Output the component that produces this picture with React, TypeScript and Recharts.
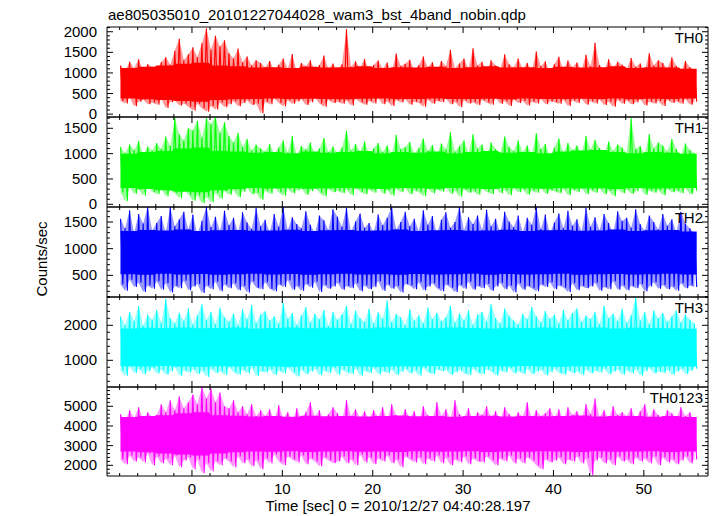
import React from "react";
import { ComposedChart, Line, Area, XAxis, YAxis } from "recharts";

// light-curve samples, alternating upper / lower excursions (counts/sec)
const TH0 = [
  1180, 320, 1040, 260, 1270, 410, 1120, 190, 1330, 300, 1060, 350, 1210, 240, 1150, 280,
  1090, 230, 1260, 370, 1380, 150, 1200, 290, 1540, 330, 1830, 210, 1310, 260, 1450, 180,
  1620, 90, 1380, 250, 1720, 140, 2080, 60, 1560, 200, 1900, 110, 1640, 280, 1790, 170,
  1480, 240, 1350, 310, 1590, 190, 1260, 270, 1400, 330, 1180, 220, 1310, 260, 1240, 20,
  1130, 300, 1290, 240, 1070, 380, 1200, 270, 1350, 190, 1110, 330, 1460, 250, 1020, 310,
  1240, 360, 1160, 220, 1310, 290, 1050, 400, 1190, 260, 1420, 180, 1100, 340, 1230, 270,
  1080, 300, 1210, 250, 2060, 330, 1150, 210, 1280, 370, 1120, 290, 1340, 230, 1060, 320,
  1190, 260, 1300, 390, 1110, 240, 1250, 310, 1040, 200, 1470, 340, 1170, 280, 1220, 360,
  1320, 230, 1080, 300, 1190, 270, 1400, 180, 1130, 350, 1260, 250, 1050, 320, 1290, 290,
  1160, 380, 1560, 240, 1120, 300, 1230, 170, 1350, 330, 1090, 260, 1600, 290, 1180, 220,
  1270, 340, 1040, 280, 1310, 230, 1180, 390, 1090, 250, 1450, 310, 1210, 200, 1130, 350,
  1350, 270, 1100, 320, 1240, 210, 1060, 300, 1520, 260, 1170, 370, 1280, 240, 1020, 310,
  1210, 290, 1390, 250, 1080, 340, 1300, 200, 1140, 330, 1250, 270, 1070, 380, 1440, 230,
  1160, 310, 1730, 260, 1190, 350, 1050, 220, 1330, 300, 1120, 180, 1270, 340, 1200, 250,
  1090, 330, 1360, 240, 1150, 290, 1230, 370, 1060, 210, 1480, 300, 1180, 260, 1310, 320,
  1240, 200, 1110, 340, 1380, 270, 1170, 310, 1020, 250, 1290, 360, 1140, 230, 1080, 300,
];

const TH1 = [
  1130, 240, 1010, 60, 1180, 330, 1070, 210, 1250, 290, 980, 170, 1140, 360, 1060, 250,
  1210, 200, 1090, 310, 1340, 160, 1150, 270, 1710, 220, 1380, 120, 1260, 300, 1500, 190,
  1460, 70, 1650, 180, 1320, 20, 1700, 150, 1580, 40, 1730, 230, 1410, 110, 1620, 260,
  1350, 190, 1220, 280, 1410, 140, 1130, 250, 1290, 320, 1060, 200, 1180, 230, 1100, 90,
  1040, 270, 1190, 210, 990, 340, 1120, 240, 1260, 170, 1020, 300, 1350, 220, 970, 280,
  1150, 320, 1080, 190, 1220, 260, 1000, 350, 1100, 230, 1310, 160, 1030, 300, 1140, 240,
  1010, 270, 1120, 220, 1450, 290, 1060, 180, 1190, 330, 1040, 250, 1240, 200, 990, 290,
  1100, 230, 1210, 340, 1030, 210, 1160, 280, 980, 170, 1370, 300, 1090, 240, 1130, 320,
  1230, 200, 1010, 270, 1110, 240, 1300, 160, 1050, 310, 1170, 220, 990, 290, 1200, 250,
  1080, 330, 1420, 210, 1040, 270, 1150, 150, 1260, 290, 1010, 230, 1380, 260, 1100, 190,
  1180, 300, 970, 250, 1220, 200, 1090, 340, 1020, 220, 1340, 280, 1130, 180, 1050, 310,
  1260, 240, 1030, 290, 1160, 190, 990, 270, 1400, 230, 1090, 320, 1190, 210, 960, 280,
  1120, 260, 1300, 220, 1010, 300, 1210, 180, 1060, 290, 1160, 240, 1000, 330, 1350, 200,
  1080, 280, 1270, 230, 1110, 310, 980, 200, 1240, 270, 1050, 160, 1180, 300, 1120, 220,
  1010, 290, 1700, 210, 1090, 260, 1150, 330, 990, 190, 1380, 270, 1100, 230, 1220, 280,
  1160, 180, 1040, 300, 1290, 240, 1090, 270, 970, 220, 1200, 320, 1070, 200, 1010, 270,
];

const TH2 = [
  1560, 330, 1380, 210, 1720, 420, 1290, 280, 1650, 360, 1470, 190, 1780, 310, 1340, 250,
  1480, 390, 1610, 230, 1300, 350, 1780, 180, 1420, 300, 1550, 260, 1690, 400, 1360, 220,
  1640, 290, 1270, 340, 1520, 170, 1780, 310, 1400, 240, 1600, 380, 1330, 200, 1710, 330,
  1440, 260, 1580, 350, 1310, 220, 1680, 300, 1490, 180, 1370, 390, 1760, 270, 1420, 240,
  1540, 370, 1300, 250, 1650, 200, 1410, 330, 1780, 280, 1350, 410, 1590, 230, 1460, 300,
  1380, 210, 1700, 340, 1450, 270, 1290, 380, 1620, 190, 1530, 320, 1350, 250, 1740, 290,
  1600, 360, 1410, 230, 1770, 300, 1320, 260, 1510, 350, 1660, 200, 1390, 310, 1480, 240,
  1300, 280, 1640, 390, 1440, 210, 1580, 330, 1780, 250, 1360, 300, 1500, 180, 1690, 340,
  1420, 310, 1560, 240, 1330, 370, 1720, 220, 1450, 290, 1610, 350, 1280, 260, 1540, 200,
  1680, 330, 1390, 270, 1500, 190, 1780, 320, 1340, 250, 1590, 380, 1460, 230, 1620, 300,
  1350, 260, 1730, 340, 1420, 210, 1560, 290, 1300, 360, 1690, 240, 1510, 310, 1400, 180,
  1620, 350, 1310, 230, 1580, 300, 1450, 260, 1780, 200, 1370, 330, 1640, 280, 1290, 370,
  1490, 240, 1660, 310, 1380, 270, 1710, 190, 1430, 350, 1550, 220, 1320, 300, 1760, 260,
  1410, 290, 1590, 360, 1340, 210, 1650, 280, 1480, 240, 1300, 390, 1700, 230, 1520, 310,
  1580, 220, 1390, 300, 1740, 260, 1460, 340, 1330, 200, 1620, 290, 1500, 370, 1360, 250,
  1650, 320, 1430, 240, 1550, 290, 1310, 210, 1690, 350, 1470, 260, 1380, 310, 1290, 280,
];

const TH3 = [
  2250, 700, 2010, 560, 2380, 820, 2120, 640, 2550, 750, 1990, 600, 2300, 690, 2160, 780,
  2440, 620, 2070, 730, 2750, 590, 2200, 680, 2060, 800, 2360, 560, 2130, 710, 2480, 650,
  2020, 740, 2290, 610, 2600, 700, 2150, 520, 2390, 760, 2040, 640, 2500, 690, 2230, 580,
  2110, 800, 2340, 660, 2000, 590, 2460, 720, 2180, 630, 2580, 770, 2070, 550, 2310, 690,
  2400, 650, 2140, 740, 2260, 580, 2050, 700, 2640, 620, 2190, 790, 2350, 660, 2010, 540,
  2280, 720, 2520, 600, 2080, 680, 2330, 750, 2170, 570, 2440, 700, 1980, 640, 2390, 780,
  2160, 590, 2310, 730, 2560, 650, 2040, 610, 2420, 760, 2200, 560, 2100, 700, 2470, 630,
  2050, 770, 2370, 600, 2190, 690, 2710, 640, 2090, 730, 2320, 580, 2230, 670, 2010, 750,
  2450, 620, 2140, 710, 2290, 560, 2060, 780, 2510, 650, 2180, 600, 2360, 740, 2120, 690,
  2230, 730, 2560, 590, 2080, 660, 2340, 720, 2150, 630, 2430, 570, 2010, 760, 2300, 640,
  2380, 600, 2110, 740, 2600, 680, 2210, 560, 2050, 710, 2480, 650, 2270, 780, 2140, 620,
  2020, 690, 2330, 610, 2170, 750, 2520, 600, 2260, 680, 2090, 730, 2410, 570, 2190, 660,
  2300, 760, 2060, 640, 2440, 590, 2150, 710, 2350, 630, 2480, 690, 2100, 580, 2280, 740,
  2180, 620, 2390, 700, 2030, 650, 2560, 760, 2210, 600, 2330, 680, 2120, 730, 2470, 590,
  2070, 710, 2290, 630, 2800, 740, 2140, 560, 2380, 690, 2040, 770, 2420, 620, 2200, 680,
  2350, 640, 2110, 720, 2260, 590, 2430, 680, 2080, 750, 2310, 610, 2160, 700, 2050, 760,
];

const TH0123 = [
  4600, 2300, 4250, 2050, 4800, 2500, 4400, 2200, 4950, 2400, 4300, 2150, 4700, 2600, 4450, 2000,
  4550, 2450, 5100, 2100, 4700, 2350, 5300, 2000, 4800, 2500, 5500, 1900, 4900, 2250, 5200, 2400,
  5600, 1800, 5100, 2300, 5980, 1600, 5400, 2100, 5900, 1700, 5200, 2200, 5700, 2000, 5000, 2350,
  4900, 2200, 5300, 1900, 4700, 2450, 5000, 2100, 4600, 2300, 5100, 1950, 4500, 2250, 4800, 1800,
  4500, 2350, 4850, 2100, 4300, 2550, 5050, 2200, 4400, 2000, 4700, 2450, 4250, 2300, 4900, 2150,
  4350, 2500, 4700, 2050, 5200, 2350, 4450, 2200, 4800, 1950, 4300, 2400, 4600, 2250, 4950, 2100,
  4650, 2200, 4300, 2450, 5300, 2100, 4500, 2300, 4850, 2000, 4400, 2550, 4750, 2150, 4350, 2400,
  4800, 2050, 4450, 2350, 4950, 2200, 4300, 2500, 5100, 2100, 4550, 2300, 4400, 1900, 4850, 2450,
  4400, 2300, 4750, 2150, 4250, 2400, 5000, 2050, 4550, 2350, 4300, 2200, 5200, 2500, 4500, 2100,
  4850, 2400, 4350, 2000, 5300, 2300, 4600, 2150, 4450, 2450, 4900, 2050, 4300, 2350, 4700, 2200,
  4550, 2150, 5000, 2450, 4400, 2250, 4750, 2000, 4300, 2350, 4950, 2200, 4600, 2500, 4350, 2100,
  4700, 2350, 4450, 2100, 5200, 2400, 4350, 2250, 4800, 2000, 4500, 1800, 4650, 2300, 4900, 2150,
  4400, 2250, 4850, 2400, 4300, 2050, 4950, 2300, 4550, 2200, 4750, 2450, 4350, 2100, 5100, 2350,
  4600, 1500, 5400, 2250, 4450, 2400, 4800, 2100, 4350, 2300, 5000, 2000, 4550, 2450, 4700, 2200,
  4500, 2300, 4900, 2050, 4350, 2400, 4750, 2200, 5100, 2350, 4400, 2100, 4850, 2450, 4550, 2000,
  4300, 2400, 4800, 2150, 4650, 2300, 4400, 2050, 4950, 2250, 4500, 2450, 4700, 2100, 4250, 2300,
];

// solidly filled core of each light curve, one value per 2 s block (8 samples)
const TH0_CORE_LO = [380, 360, 340, 320, 300, 340, 360, 370, 380, 365, 375, 370, 360, 375, 380, 365, 370, 380, 365, 370, 375, 360, 380, 370, 365, 375, 370, 380, 360, 375, 370, 380];
const TH0_CORE_HI = [1120, 1150, 1180, 1220, 1250, 1180, 1160, 1130, 1140, 1120, 1150, 1130, 1140, 1160, 1120, 1140, 1130, 1150, 1120, 1140, 1160, 1130, 1140, 1120, 1150, 1130, 1140, 1160, 1120, 1140, 1130, 1100];
const TH1_CORE_LO = [320, 300, 280, 250, 240, 280, 300, 320, 310, 320, 305, 315, 320, 310, 300, 320, 315, 305, 320, 310, 300, 320, 315, 305, 320, 310, 315, 300, 320, 310, 315, 320];
const TH1_CORE_HI = [1000, 1030, 1050, 1100, 1120, 1050, 1040, 1020, 1030, 1010, 1040, 1020, 1030, 1050, 1010, 1030, 1020, 1040, 1010, 1030, 1050, 1020, 1030, 1010, 1040, 1060, 1070, 1030, 1010, 1030, 1020, 1000];
const TH2_CORE_LO = [520, 510, 530, 515, 525, 510, 520, 530, 515, 525, 510, 520, 530, 515, 520, 510, 525, 515, 520, 530, 510, 525, 515, 520, 530, 510, 520, 525, 515, 520, 530, 515];
const TH2_CORE_HI = [1330, 1350, 1340, 1360, 1330, 1345, 1350, 1335, 1340, 1355, 1330, 1345, 1350, 1335, 1340, 1360, 1330, 1345, 1350, 1335, 1340, 1355, 1330, 1345, 1350, 1335, 1340, 1360, 1330, 1345, 1350, 1320];
const TH3_CORE_LO = [830, 820, 835, 825, 815, 830, 820, 835, 825, 815, 830, 820, 835, 825, 815, 830, 820, 835, 825, 815, 830, 820, 835, 825, 815, 830, 820, 835, 825, 815, 830, 820];
const TH3_CORE_HI = [1910, 1930, 1920, 1940, 1915, 1925, 1935, 1910, 1920, 1940, 1915, 1930, 1925, 1910, 1935, 1920, 1930, 1915, 1940, 1920, 1910, 1930, 1925, 1935, 1915, 1920, 1940, 1910, 1930, 1925, 1915, 1900];
const TH0123_CORE_LO = [2700, 2660, 2600, 2550, 2500, 2600, 2660, 2700, 2690, 2710, 2680, 2700, 2720, 2690, 2700, 2680, 2710, 2690, 2700, 2720, 2680, 2700, 2690, 2710, 2700, 2680, 2720, 2690, 2700, 2710, 2680, 2700];
const TH0123_CORE_HI = [4450, 4500, 4550, 4650, 4700, 4550, 4520, 4480, 4500, 4470, 4520, 4490, 4510, 4480, 4500, 4530, 4490, 4510, 4470, 4500, 4520, 4480, 4510, 4490, 4500, 4530, 4480, 4500, 4510, 4470, 4500, 4450];

// time grid of the samples (sec)
const T_START = -7.9;
const T_STEP = 0.25;
const BLOCK = 8;

const X_MAJOR = [0, 10, 20, 30, 40, 50];
const X_DOMAIN = [-9.4, 57.1];

const TITLE = "ae805035010_20101227044028_wam3_bst_4band_nobin.qdp";
const X_LABEL = "Time [sec] 0 = 2010/12/27 04:40:28.197";
const Y_LABEL = "Counts/sec";

const range = (a: number, b: number, s: number) => {
  const out: number[] = [];
  for (let v = a; v <= b + 1e-9; v += s) out.push(+v.toFixed(3));
  return out;
};

const X_TICKS = range(-8, 56, 2);

const data = TH0.map((v, i) => ({
  t: +(T_START + i * T_STEP).toFixed(2),
  TH0: v,
  TH1: TH1[i],
  TH2: TH2[i],
  TH3: TH3[i],
  TH0123: TH0123[i],
}));

// each upper excursion paired with the following lower one -> swing range (faint haze)
const swings = (s: number[]) =>
  s
    .filter((_, i) => i % 2 === 0)
    .map((hi, j) => ({ t: +(T_START + 2 * j * T_STEP).toFixed(2), range: [s[2 * j + 1], hi] }));

// core band on the sample grid
const core = (lo: number[], hi: number[]) =>
  TH0.map((_, i) => {
    const b = Math.floor(i / BLOCK);
    return { t: +(T_START + i * T_STEP).toFixed(2), band: [lo[b], hi[b]] };
  });

const panels = [
  { key: "TH0", series: TH0, lo: TH0_CORE_LO, hi: TH0_CORE_HI, color: "#ff0000", top: 27, h: 90, domain: [-70, 2115], major: [0, 500, 1000, 1500, 2000], ticks: range(0, 2100, 100) },
  { key: "TH1", series: TH1, lo: TH1_CORE_LO, hi: TH1_CORE_HI, color: "#00ff00", top: 117, h: 90, domain: [-53, 1723], major: [0, 500, 1000, 1500], ticks: range(0, 1700, 100) },
  { key: "TH2", series: TH2, lo: TH2_CORE_LO, hi: TH2_CORE_HI, color: "#0000ff", top: 207, h: 90, domain: [94, 1781], major: [500, 1000, 1500], ticks: range(100, 1700, 100) },
  { key: "TH3", series: TH3, lo: TH3_CORE_LO, hi: TH3_CORE_HI, color: "#00ffff", top: 297, h: 90, domain: [237, 2809], major: [1000, 2000], ticks: range(400, 2800, 200) },
  { key: "TH0123", series: TH0123, lo: TH0123_CORE_LO, hi: TH0123_CORE_HI, color: "#ff00ff", top: 387, h: 89, domain: [1457, 5980], major: [2000, 3000, 4000, 5000], ticks: range(1600, 5800, 200) },
];

const PAD = 30;
const FONT = "'Liberation Sans', Arial, Helvetica, sans-serif";

const XTick = (props: any) => {
  const { x, y, payload, dir, labels } = props;
  const major = X_MAJOR.includes(payload.value);
  const len = major ? 6 : 3;
  return (
    <g>
      <line x1={x} x2={x} y1={y} y2={y + dir * len} stroke="#000" strokeWidth={1} />
      {labels && major && (
        <text x={x} y={y + 18} textAnchor="middle" fontSize={15} fill="#000">
          {payload.value}
        </text>
      )}
    </g>
  );
};

const YTick = (props: any) => {
  const { x, y, payload, dir, labels, major } = props;
  const isMajor = major.includes(payload.value);
  const len = isMajor ? 6 : 3;
  return (
    <g>
      <line x1={x} x2={x + dir * len} y1={y} y2={y} stroke="#000" strokeWidth={1} />
      {labels && isMajor && (
        <text x={x - 10} y={y + 5} textAnchor="end" fontSize={15} fill="#000">
          {payload.value}
        </text>
      )}
    </g>
  );
};

function Panel({ p, last }: { p: (typeof panels)[number]; last: boolean }) {
  return (
    <div style={{ position: "absolute", left: 0, top: p.top - PAD }}>
      <ComposedChart
        width={717}
        height={p.h + PAD * 2}
        data={data}
        margin={{ top: PAD - 1, bottom: PAD - 1, left: 106, right: 8 }}
      >
        <XAxis
          xAxisId="b"
          dataKey="t"
          type="number"
          domain={X_DOMAIN}
          allowDataOverflow
          ticks={X_TICKS}
          interval={0}
          height={1}
          tickSize={0}
          tickMargin={0}
          stroke="#000"
          tick={(tp: any) => <XTick {...tp} dir={-1} labels={last} />}
        />
        <XAxis
          xAxisId="t"
          orientation="top"
          dataKey="t"
          type="number"
          domain={X_DOMAIN}
          allowDataOverflow
          ticks={X_TICKS}
          interval={0}
          height={1}
          tickSize={0}
          tickMargin={0}
          stroke="#000"
          tick={(tp: any) => <XTick {...tp} dir={1} labels={false} />}
        />
        <YAxis
          yAxisId="l"
          type="number"
          domain={p.domain}
          allowDataOverflow
          ticks={p.ticks}
          interval={0}
          width={1}
          tickSize={0}
          tickMargin={0}
          stroke="#000"
          tick={(tp: any) => <YTick {...tp} dir={1} labels major={p.major} />}
        />
        <YAxis
          yAxisId="r"
          orientation="right"
          type="number"
          domain={p.domain}
          allowDataOverflow
          ticks={p.ticks}
          interval={0}
          width={1}
          tickSize={0}
          tickMargin={0}
          stroke="#000"
          tick={(tp: any) => <YTick {...tp} dir={-1} labels={false} major={p.major} />}
        />
        <Area
          xAxisId="b"
          yAxisId="l"
          type="linear"
          data={swings(p.series)}
          dataKey="range"
          stroke="none"
          fill={p.color}
          fillOpacity={0.4}
          isAnimationActive={false}
        />
        <Area
          xAxisId="b"
          yAxisId="l"
          type="linear"
          data={core(p.lo, p.hi)}
          dataKey="band"
          stroke="none"
          fill={p.color}
          fillOpacity={1}
          isAnimationActive={false}
        />
        <Line
          xAxisId="b"
          yAxisId="l"
          type="linear"
          dataKey={p.key}
          stroke={p.color}
          strokeWidth={1.1}
          dot={false}
          isAnimationActive={false}
        />
      </ComposedChart>
    </div>
  );
}

export default function App() {
  return (
    <div
      style={{
        position: "absolute",
        left: 0,
        top: 0,
        width: 717,
        height: 516,
        background: "#fff",
        fontFamily: FONT,
      }}
    >
      {panels.map((p, i) => (
        <Panel key={p.key} p={p} last={i === panels.length - 1} />
      ))}
      <svg
        width={717}
        height={516}
        style={{ position: "absolute", left: 0, top: 0, pointerEvents: "none" }}
        fontFamily={FONT}
      >
        <text x={108} y={20} fontSize={15} fill="#000">
          {TITLE}
        </text>
        {panels.map((p) => (
          <text key={p.key} x={703} y={p.top + 16} fontSize={15} textAnchor="end" fill="#000">
            {p.key}
          </text>
        ))}
        <text x={47} y={259} fontSize={15} textAnchor="middle" fill="#000" transform="rotate(-90 47 259)">
          {Y_LABEL}
        </text>
        <text x={398} y={511} fontSize={15} textAnchor="middle" fill="#000">
          {X_LABEL}
        </text>
      </svg>
    </div>
  );
}
